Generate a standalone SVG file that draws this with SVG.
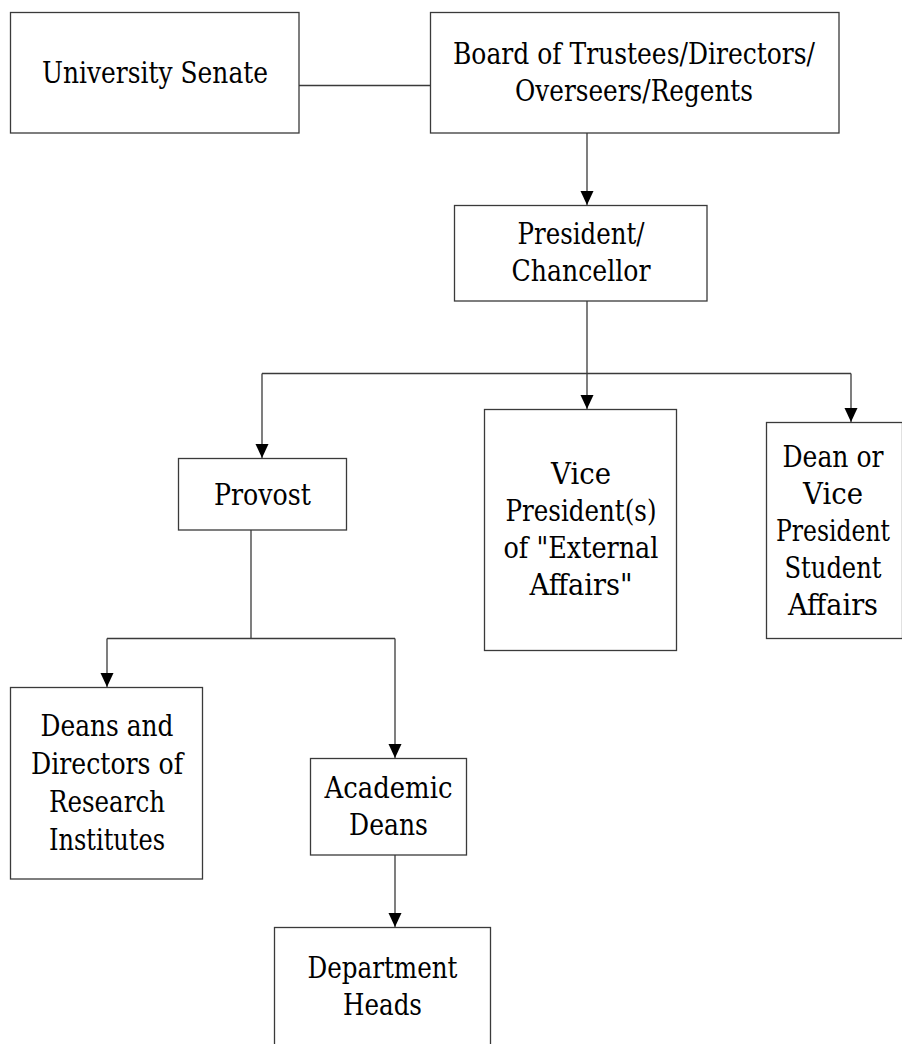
<svg xmlns="http://www.w3.org/2000/svg" width="902" height="1044" viewBox="0 0 902 1044">
<style>
.box{fill:#fff;stroke:#3a3a3a;stroke-width:1.3}
.t{font-family:'DejaVu Serif',serif;font-size:29px;fill:#000;text-anchor:middle}
.c{fill:none;stroke:#3a3a3a;stroke-width:1.3}
.a{marker-end:url(#arr)}
</style>
<defs>
<marker id="arr" markerUnits="userSpaceOnUse" viewBox="0 -7 15 14" refX="14" refY="0" markerWidth="15" markerHeight="14" orient="auto">
<path d="M0,-6.5 L14,0 L0,6.5 z" fill="#000"/>
</marker>
</defs>
<rect width="902" height="1044" fill="#fff"/>
<g id="connectors">
<path class="c" d="M299,85.5 H430"/>
<path class="c a" d="M587,133 V205"/>
<path class="c a" d="M587,301 V409"/>
<path class="c" d="M262,373.5 H851"/>
<path class="c a" d="M262,373.5 V458"/>
<path class="c a" d="M851,373.5 V422"/>
<path class="c" d="M251,530 V638.5"/>
<path class="c" d="M107,638.5 H395"/>
<path class="c a" d="M107,638.5 V687"/>
<path class="c a" d="M395,638.5 V758"/>
<path class="c a" d="M395,855 V927"/>
</g>
<g id="senate">
<rect class="box" x="10.5" y="12.5" width="288.5" height="120.5"/>
<text class="t" x="155" y="83" textLength="226" lengthAdjust="spacingAndGlyphs">University Senate</text>
</g>
<g id="board">
<rect class="box" x="430.5" y="12.5" width="408.5" height="120.5"/>
<text class="t" x="634" y="64" textLength="362" lengthAdjust="spacingAndGlyphs">Board of Trustees/Directors/</text>
<text class="t" x="634" y="101" textLength="238" lengthAdjust="spacingAndGlyphs">Overseers/Regents</text>
</g>
<g id="president">
<rect class="box" x="454.5" y="205.5" width="252.5" height="95.5"/>
<text class="t" x="581" y="244" textLength="127" lengthAdjust="spacingAndGlyphs">President/</text>
<text class="t" x="581" y="281" textLength="139" lengthAdjust="spacingAndGlyphs">Chancellor</text>
</g>
<g id="provost">
<rect class="box" x="178.5" y="458.5" width="168" height="71.5"/>
<text class="t" x="262.5" y="505" textLength="97" lengthAdjust="spacingAndGlyphs">Provost</text>
</g>
<g id="vp-external">
<rect class="box" x="484.5" y="409.5" width="192" height="241"/>
<text class="t" x="581" y="484" textLength="60" lengthAdjust="spacingAndGlyphs">Vice</text>
<text class="t" x="581" y="521" textLength="151" lengthAdjust="spacingAndGlyphs">President(s)</text>
<text class="t" x="581" y="558" textLength="155" lengthAdjust="spacingAndGlyphs">of "External</text>
<text class="t" x="581" y="595" textLength="103" lengthAdjust="spacingAndGlyphs">Affairs"</text>
</g>
<g id="dean-student">
<rect class="box" x="766.5" y="422.5" width="136" height="216"/>
<text class="t" x="833" y="467" textLength="101" lengthAdjust="spacingAndGlyphs">Dean or</text>
<text class="t" x="833" y="504" textLength="60" lengthAdjust="spacingAndGlyphs">Vice</text>
<text class="t" x="833" y="541" textLength="114" lengthAdjust="spacingAndGlyphs">President</text>
<text class="t" x="833" y="578" textLength="97" lengthAdjust="spacingAndGlyphs">Student</text>
<text class="t" x="833" y="615" textLength="90" lengthAdjust="spacingAndGlyphs">Affairs</text>
</g>
<g id="research-deans">
<rect class="box" x="10.5" y="687.5" width="192" height="191.5"/>
<text class="t" x="107" y="736" textLength="133" lengthAdjust="spacingAndGlyphs">Deans and</text>
<text class="t" x="107" y="774" textLength="152" lengthAdjust="spacingAndGlyphs">Directors of</text>
<text class="t" x="107" y="812" textLength="116" lengthAdjust="spacingAndGlyphs">Research</text>
<text class="t" x="107" y="850" textLength="116" lengthAdjust="spacingAndGlyphs">Institutes</text>
</g>
<g id="academic-deans">
<rect class="box" x="310.5" y="758.5" width="156" height="96.5"/>
<text class="t" x="388.5" y="798" textLength="128" lengthAdjust="spacingAndGlyphs">Academic</text>
<text class="t" x="388.5" y="835" textLength="79" lengthAdjust="spacingAndGlyphs">Deans</text>
</g>
<g id="dept-heads">
<rect class="box" x="274.5" y="927.5" width="216" height="140"/>
<text class="t" x="382.5" y="978" textLength="150" lengthAdjust="spacingAndGlyphs">Department</text>
<text class="t" x="382.5" y="1015" textLength="79" lengthAdjust="spacingAndGlyphs">Heads</text>
</g>
</svg>
